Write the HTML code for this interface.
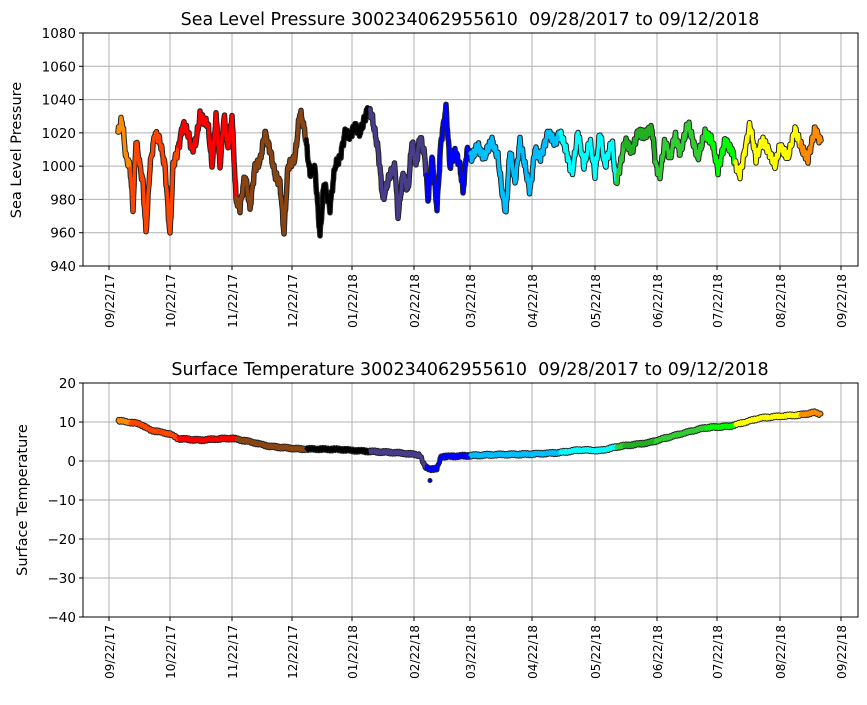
<!DOCTYPE html><html><head><style>body{margin:0;background:#fff}svg text{font-family:"DejaVu Sans","Liberation Sans",sans-serif;fill:#000;white-space:pre}</style></head><body>
<svg id="s" width="867" height="700" xmlns="http://www.w3.org/2000/svg">
<rect width="867" height="700" fill="#fff"/>
<g id="grid"></g><g id="data"></g><g id="ax"></g>
<text x="470" y="25" font-size="17.5" text-anchor="middle">Sea Level Pressure 300234062955610&#160; 09/28/2017 to 09/12/2018</text>
<text x="470" y="375" font-size="17.5" text-anchor="middle">Surface Temperature 300234062955610&#160; 09/28/2017 to 09/12/2018</text>
<text transform="translate(21,150) rotate(-90)" font-size="14.5" text-anchor="middle">Sea Level Pressure</text>
<text transform="translate(27,500) rotate(-90)" font-size="14.5" text-anchor="middle">Surface Temperature</text>
</svg>
<script>
const NS="http://www.w3.org/2000/svg";
function el(p,t,a,txt){const e=document.createElementNS(NS,t);for(const k in a)e.setAttribute(k,a[k]);if(txt!=null)e.textContent=txt;p.appendChild(e);return e;}
const G=document.getElementById('grid'),D=document.getElementById('data'),A=document.getElementById('ax');
const L=83,R=858;
const xt=[109,170,232,292,352,414,470,532,595,657,717,780,841];
const xl=["09/22/17","10/22/17","11/22/17","12/22/17","01/22/18","02/22/18","03/22/18","04/22/18","05/22/18","06/22/18","07/22/18","08/22/18","09/22/18"];
function axes(T,B,vals,fy){
 vals.forEach(v=>{const y=fy(v);el(G,'line',{x1:L,x2:R,y1:y,y2:y,stroke:'#b0b0b0','stroke-width':1});
  el(A,'line',{x1:L-4,x2:L,y1:y,y2:y,stroke:'#000'});el(A,'text',{x:L-7,y:y+5,'font-size':13.5,'text-anchor':'end'},String(v).replace('-','\u2212'));});
 xt.forEach((x,i)=>{el(G,'line',{x1:x,x2:x,y1:T,y2:B,stroke:'#b0b0b0','stroke-width':1});
  el(A,'line',{x1:x,x2:x,y1:B,y2:B+4,stroke:'#000'});
  el(A,'text',{transform:`translate(${x+5},${B+8}) rotate(-90)`,'font-size':12,'text-anchor':'end'},xl[i]);});
 el(A,'rect',{x:L,y:T,width:R-L,height:B-T,fill:'none',stroke:'#000','stroke-width':1});
}
const fy1=v=>33+(1080-v)*233/140, fy2=v=>383+(20-v)*234/60;
axes(33,266,[940,960,980,1000,1020,1040,1060,1080],fy1);
axes(383,617,[-40,-30,-20,-10,0,10,20],fy2);
const cols=[[130,'#ff8c00'],[178,'#ff4500'],[236,'#ff0000'],[306,'#8b4513'],[370,'#000000'],[426,'#483d8b'],[470,'#0000ff'],[560,'#00bfff'],[616,'#00ffff'],[624,'#32cd32'],[655,'#22b022'],[706,'#32cd32'],[735,'#00ff00'],[800,'#ffff00'],[900,'#ff8c00']];
function col(x){for(const c of cols)if(x<c[0])return c[1];return '#ff8c00';}
const P=[[118,1020],[122,1028],[126,1005],[130,1000],[133,975],[136,1015],[140,1000],[143,990],[146,960],[150,1000],[155,1020],[160,1015],[165,1000],[170,958],[173,1000],[178,1010],[183,1025],[188,1020],[192,1010],[196,1015],[200,1030],[208,1025],[212,1000],[216,1030],[220,1000],[224,1030],[228,1010],[232,1030],[236,980],[240,975],[245,995],[250,975],[255,1000],[260,1003],[265,1020],[270,1010],[275,995],[280,990],[284,960],[288,1000],[295,1005],[300,1033],[305,1020],[310,995],[315,998],[320,958],[324,990],[330,975],[335,1000],[340,1005],[345,1020],[350,1018],[355,1025],[360,1020],[368,1035],[372,1030],[378,1010],[383,980],[390,995],[395,1000],[398,970],[403,995],[408,985],[412,1015],[416,1000],[420,1018],[425,1005],[428,980],[432,1005],[437,975],[441,1015],[446,1035],[450,1000],[455,1010],[460,1000],[463,985],[467,1010],[472,1005],[478,1012],[484,1005],[492,1015],[498,1005],[502,985],[506,972],[510,1010],[515,990],[520,1015],[525,1000],[530,985],[535,1010],[540,1005],[548,1020],[555,1015],[560,1020],[566,1010],[572,995],[578,1020],[584,1000],[590,1015],[595,995],[600,1020],[605,1000],[612,1015],[616,990],[620,1000],[625,1015],[632,1010],[638,1020],[645,1020],[652,1022],[656,1000],[660,995],[665,1015],[670,1005],[675,1018],[680,1008],[688,1025],[693,1015],[698,1005],[705,1020],[712,1015],[718,998],[725,1015],[732,1010],[736,1000],[740,995],[745,1010],[750,1025],[756,1005],[762,1015],[768,1010],[775,1000],[780,1012],[788,1005],[795,1022],[802,1010],[808,1005],[815,1022],[821,1015]];
const T=[[118,10.3],[140,9.5],[150,8],[170,7],[178,5.8],[200,5.3],[232,5.8],[250,5],[270,3.8],[300,3],[340,3],[370,2.5],[400,2],[420,1.5],[425,-1.5],[430,-2],[437,-2],[441,1.2],[470,1.4],[520,1.7],[560,2.2],[580,2.8],[600,2.6],[620,3.8],[650,4.8],[660,5.5],[690,7.5],[705,8.5],[730,9],[760,11],[800,11.8],[815,12.5],[821,12]];
function interp(arr,x){for(let i=0;i<arr.length-1;i++){if(x<=arr[i+1][0]){const t=(x-arr[i][0])/(arr[i+1][0]-arr[i][0]);return arr[i][1]+t*(arr[i+1][1]-arr[i][1]);}}return arr[arr.length-1][1];}
function draw(arr,fy,w,jit){
 const pts=[];for(let x=118;x<=821;x+=0.5)pts.push([x,fy(interp(arr,x)+jit*Math.sin(x*2.3)+jit*0.7*Math.sin(x*5.1))]);
 let segs=[],cur=null,cc=null;
 pts.forEach(p=>{const c=col(p[0]);if(c!==cc){if(cur)cur.pts.push(p);cur={c,pts:[p]};segs.push(cur);cc=c;}else cur.pts.push(p);});
 segs.forEach(s=>el(D,'polyline',{points:s.pts.map(p=>p.join(',')).join(' '),fill:'none',stroke:'#222','stroke-width':w+2,'stroke-linejoin':'round','stroke-linecap':'round'}));
 segs.forEach(s=>el(D,'polyline',{points:s.pts.map(p=>p.join(',')).join(' '),fill:'none',stroke:s.c,'stroke-width':w,'stroke-linejoin':'round','stroke-linecap':'round'}));
}
draw(P,fy1,3.5,2);
draw(T,fy2,3,0.3);
el(D,'circle',{cx:430,cy:fy2(-5),r:2,fill:'#0000ff',stroke:'#222'});
</script>
</body></html>
